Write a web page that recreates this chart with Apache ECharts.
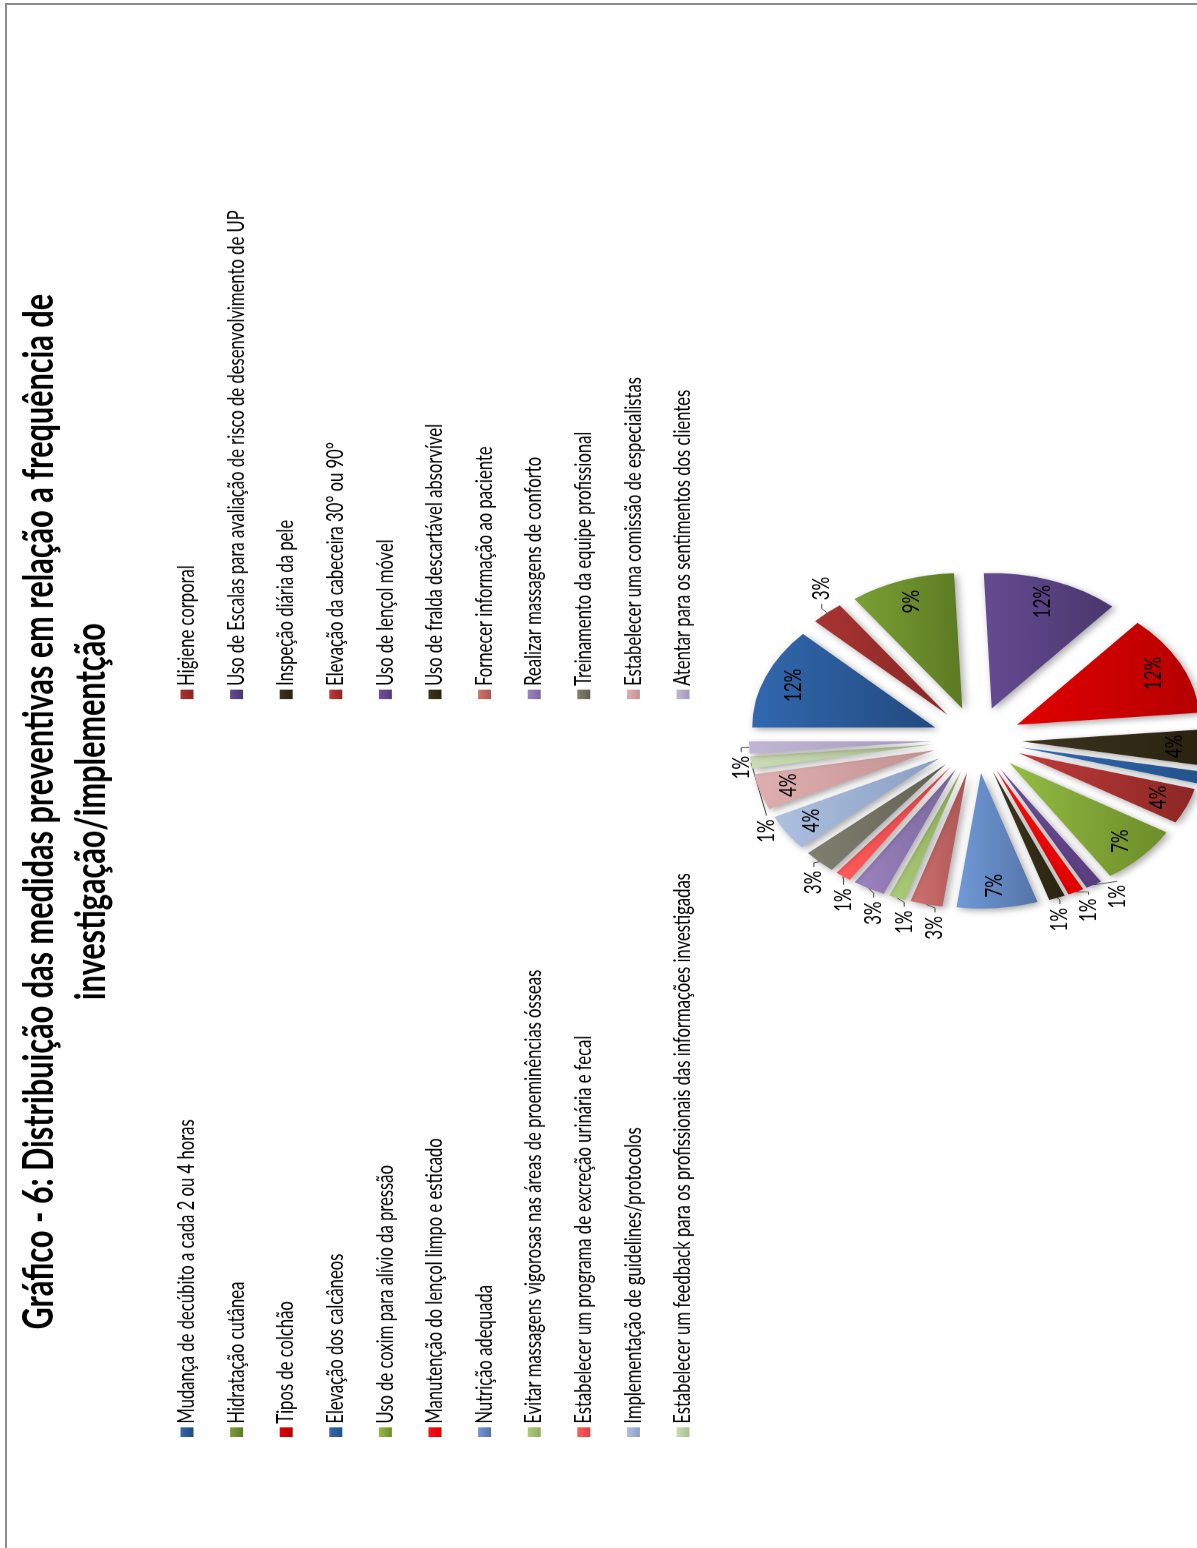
<!DOCTYPE html>
<html><head><meta charset="utf-8">
<script src="https://cdn.jsdelivr.net/npm/echarts@6/dist/echarts.min.js"></script>
<style>
html,body{margin:0;padding:0;background:#fff;overflow:hidden;width:1197px;height:1548px;}
#wrap{position:absolute;left:0;top:0;width:2092px;height:1197px;transform-origin:0 0;transform:translateY(1548px) rotate(-90deg) scaleX(0.74);}
#chart{width:2092px;height:1197px;}
#bt{position:absolute;left:5px;top:3px;width:1192px;height:2px;background:#8c8c8c;}
#bl{position:absolute;left:5px;top:3px;width:2px;height:1545px;background:#8c8c8c;}
</style></head><body>
<div id="wrap"><div id="chart"></div></div>
<div id="bt"></div><div id="bl"></div>
<script>
const titleLines = [
  'Gráfico - 6: Distribuição das medidas preventivas em relação a frequência de',
  'investigação/implementção'
];
const categories = [
  'Mudança de decúbito a cada 2 ou 4 horas',
  'Higiene corporal',
  'Hidratação cutânea',
  'Uso de Escalas para avaliação de risco de desenvolvimento de UP',
  'Tipos de colchão',
  'Inspeção diária da pele',
  'Elevação dos calcâneos',
  'Elevação da cabeceira 30° ou 90°',
  'Uso de coxim para alívio da pressão',
  'Uso de lençol móvel',
  'Manutenção do lençol limpo e esticado',
  'Uso de fralda descartável absorvível',
  'Nutrição adequada',
  'Fornecer informação ao paciente',
  'Evitar massagens vigorosas nas áreas de proeminências ósseas',
  'Realizar massagens de conforto',
  'Estabelecer um programa de excreção urinária e fecal',
  'Treinamento da equipe profissional',
  'Implementação de guidelines/protocolos',
  'Estabelecer uma comissão de especialistas',
  'Estabelecer um feedback para os profissionais das informações investigadas',
  'Atentar para os sentimentos dos clientes'
];
const counts = [17,4,13,17,17,6,2,6,10,2,2,2,10,4,2,4,2,4,6,6,2,2];

const colorsLight = ['#3168ae','#a83432','#7ba035','#654b92','#e30000','#3b3420','#3068b0','#be3d3a','#93bc44','#6f4f9c','#ff1010','#3d3620','#7099d6','#cf7270','#aecd78','#9c84c0','#ff5a5a','#808070','#adc0e0','#dfaeae','#cadcb4','#c0b6d4'];
const colorsDark  = ['#224a7e','#882624','#5c7a22','#4a366c','#b50000','#28220f','#24528c','#8c2624','#6c8c28','#573c7c','#dd0000','#29240f','#5474a8','#ad5656','#8eac5a','#7b669c','#e24444','#626052','#8a9ec4','#c29292','#a9bf8e','#a398bc'];

function grad(i){
  return new echarts.graphic.LinearGradient(0,0,0,1,[
    {offset:0,color:colorsLight[i]},{offset:1,color:colorsDark[i]}
  ]);
}
const fmt = p => Math.round(p.percent) + '%';
const INSIDE_MIN = 6;

const chart = echarts.init(document.getElementById('chart'));
const legendText = {fontSize:22.5, fontFamily:'Lato', color:'#000', lineHeight:20};
chart.setOption({
  animation:false,
  backgroundColor:'#fff',
  graphic:[
    {type:'text', x:995, y:40, style:{text:titleLines[0], font:'bold 41.4px Lato', fill:'#000', align:'center', verticalAlign:'middle'}},
    {type:'text', x:995, y:92, style:{text:titleLines[1], font:'bold 41.4px Lato', fill:'#000', align:'center', verticalAlign:'middle'}}
  ],
  legend:[
    {data:categories.filter((_,i)=>i%2===0), orient:'vertical', left:145, top:170.5, itemWidth:13, itemHeight:13, itemGap:26.6, icon:'rect', textStyle:legendText, selectedMode:false},
    {data:categories.filter((_,i)=>i%2===1), orient:'vertical', left:1142, top:170.5, itemWidth:13, itemHeight:13, itemGap:26.6, icon:'rect', textStyle:legendText, selectedMode:false}
  ],
  series:[
    {
      type:'pie', center:[1092,977], radius:[0,183], startAngle:90, clockwise:true,
      selectedMode:'multiple', selectedOffset:45, avoidLabelOverlap:true,
      emphasis:{disabled:true},
      itemStyle:{shadowBlur:8, shadowColor:'rgba(0,0,0,0.35)', shadowOffsetX:-3, shadowOffsetY:3, borderWidth:0},
      label:{position:'outside', formatter:fmt, fontSize:23, fontFamily:'Lato', color:'#000'},
      labelLine:{length:8, length2:6, lineStyle:{color:'#404040', width:1}},
      data:categories.map((n,i)=>({
        name:n, value:counts[i], selected:true,
        itemStyle:{color:grad(i)},
        label:{show:counts[i] < INSIDE_MIN},
        labelLine:{show:counts[i] < INSIDE_MIN}
      }))
    },
    {
      type:'pie', center:[1092,977], radius:[117,183], startAngle:90, clockwise:true,
      selectedMode:'multiple', selectedOffset:45, silent:true,
      emphasis:{disabled:true},
      itemStyle:{color:'rgba(0,0,0,0)', borderWidth:0},
      label:{position:'inside', formatter:fmt, fontSize:23, fontFamily:'Lato', color:'#000'},
      labelLine:{show:false},
      data:categories.map((n,i)=>({
        name:n, value:counts[i], selected:true,
        label:{show:counts[i] >= INSIDE_MIN}
      }))
    }
  ]
});
</script>
</body></html>
